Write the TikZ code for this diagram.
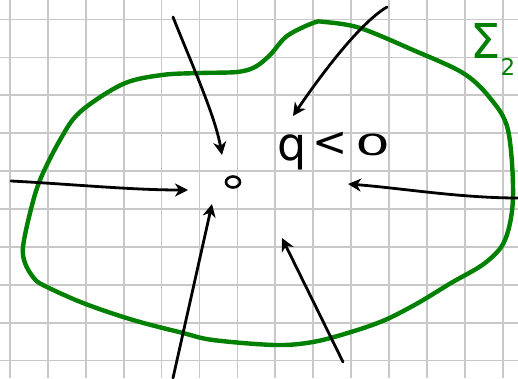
\documentclass[tikz,border=0pt]{standalone}
\usepackage{fontspec}
\usepackage{graphicx}
\setmainfont{DejaVu Sans}
\usetikzlibrary{arrows.meta,shapes.geometric}
\definecolor{penGreen}{RGB}{0,128,0}
\definecolor{gridGray}{RGB}{200,200,200}
\begin{document}
\begin{tikzpicture}[x=1pt,y=-1pt,
  gridline/.style={draw=gridGray,line width=1.7pt},
  boundary/.style={draw=penGreen,line width=4.4pt,line join=round},
  flow/.style={draw=black,line width=2.8pt,line cap=round,
    -{Stealth[length=13pt,width=13pt,inset=4pt]}},
  dot/.style={draw=black,line width=2.6pt,ellipse,inner sep=0pt,
    minimum width=14pt,minimum height=11pt},
  label/.style={anchor=base west,inner sep=0pt}]
\useasboundingbox (0,0) rectangle (518,378);
\fill[white] (0,0) rectangle (518,378);
% grid paper
\foreach \k in {0,...,13} \draw[gridline] ({10+37.9*\k},0) -- ({10+37.9*\k},378);
\foreach \k in {0,...,9} \draw[gridline] (0,{19.5+37.9*\k}) -- (518,{19.5+37.9*\k});
% boundary curve Sigma_2
\draw[boundary] plot[smooth cycle, tension=0.55] coordinates {
  (23,247) (30,213) (40,180) (60,140) (80,112) (123,84) (162,75) (200,73)
  (237,72) (255,67) (270,55) (287,36) (313,23) (325,22) (360,28) (413,50)
  (463,73) (490,98) (508,130) (513,197) (505,240) (485,263) (451,283)
  (418,303) (385,320) (351,332) (313,342) (275,345) (213,340) (183,333)
  (133,320) (83,303) (43,285) (33,277) (25,263)};
% labels
\node[label,text=penGreen] (sigma) at (470,58)
  {\fontsize{48}{48}\selectfont Σ\raisebox{-17pt}{\fontsize{23}{23}\selectfont 2}};
\node[label] (ineq) at (277,160)
  {\fontsize{46}{46}\selectfont q\hspace{6pt}\raisebox{4pt}{\fontsize{42}{42}\selectfont <}\hspace{8pt}\raisebox{5pt}{\fontsize{29}{29}\selectfont\scalebox{1.9}[1]{0}}};
\node[dot] (pt) at (233,182) {};
% arrow end points
\coordinate (s1) at (173,17);  \coordinate (t1) at (222,155);
\coordinate (s2) at (387,7);   \coordinate (t2) at (293,116);
\coordinate (s3) at (11,181);  \coordinate (t3) at (188,190);
\coordinate (s4) at (518,198); \coordinate (t4) at (348,184);
\coordinate (s5) at (173,378); \coordinate (t5) at (212,204);
\coordinate (s6) at (343,362); \coordinate (t6) at (282,238);
% arrows
\draw[flow] (s1) .. controls (190,60) and (215,115) .. (t1);
\draw[flow] (s2) .. controls (358,24) and (316,82) .. (t2);
\draw[flow] (s3) .. controls (70,184) and (130,190) .. (t3);
\draw[flow] (s4) .. controls (460,198) and (400,188) .. (t4);
\draw[flow] (s5) -- (t5);
\draw[flow] (s6) -- (t6);
\end{tikzpicture}
\end{document}
